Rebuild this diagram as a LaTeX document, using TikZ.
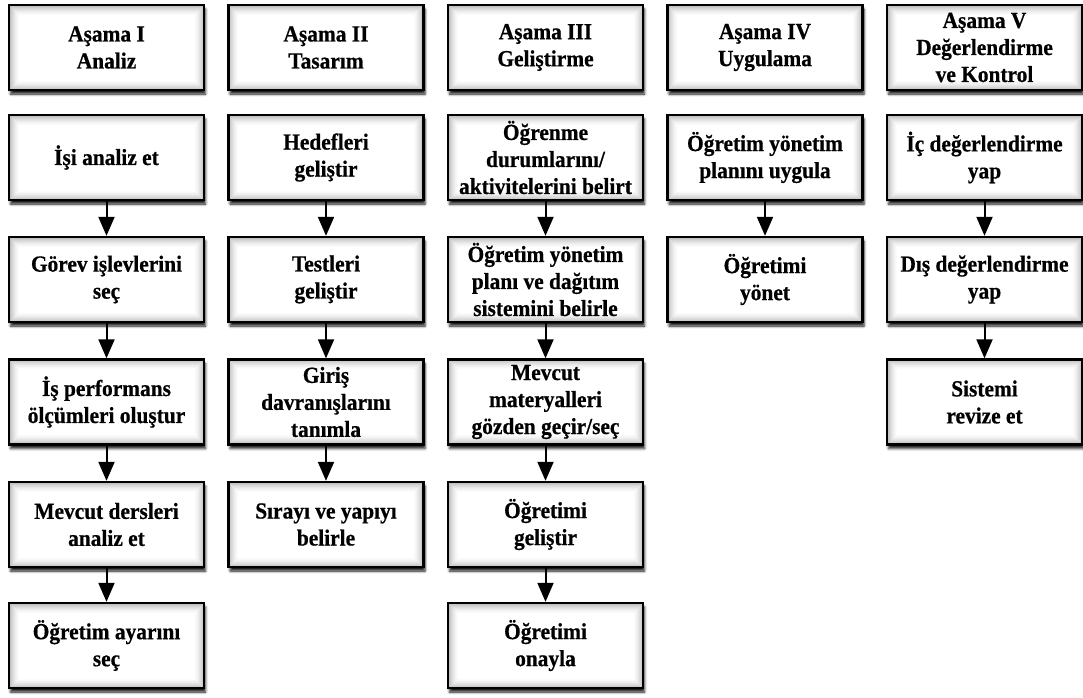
\documentclass[tikz,border=0pt]{standalone}
\usepackage{fontspec}
\setmainfont[FakeStretch=0.93, BoldFeatures={FakeBold=0.6}]{Liberation Serif}
\usetikzlibrary{arrows.meta,shadows.blur}

\tikzset{
  stepbox/.style={
    draw=black, line width=2.4pt, fill=white,
    minimum width=195pt, minimum height=85pt,
    inner sep=0pt, align=center,
    font=\fontsize{23}{27}\selectfont\bfseries,
    blur shadow={shadow xshift=1.5pt, shadow yshift=-4pt,
                 shadow blur radius=2.5pt, shadow opacity=90},
    path picture={
      \foreach \i/\c in {1/24,2/20,3/16,4/13,5/10,6/7,7/5,8/3,9/1.5}{
        \draw[draw=black!\c, line width=1pt]
          ([shift={(\i pt,-\i pt)}]path picture bounding box.north west)
          rectangle
          ([shift={(-\i pt,\i pt)}]path picture bounding box.south east);
      }
    }
  },
  flow/.style={line width=2pt, -{Triangle[width=16pt,length=19pt]}}
}

\begin{document}
\begin{tikzpicture}[x=1pt,y=-1pt]
\useasboundingbox (0,0) rectangle (1083,697);

% column centres
\def\ca{106.5}
\def\cb{326}
\def\cc{545.5}
\def\cd{765}
\def\ce{984.5}
% row centres
\def\rh{47.5}
\def\ra{157.5}
\def\rb{279.5}
\def\rc{402}
\def\rd{524.5}
\def\re{645.5}

% Stage I
\node[stepbox] (h1) at (\ca,\rh) {Aşama I\\Analiz};
\node[stepbox] (a1) at (\ca,\ra) {İşi analiz et};
\node[stepbox] (a2) at (\ca,\rb) {Görev işlevlerini\\seç};
\node[stepbox] (a3) at (\ca,\rc) {İş performans\\ölçümleri oluştur};
\node[stepbox] (a4) at (\ca,\rd) {Mevcut dersleri\\analiz et};
\node[stepbox] (a5) at (\ca,\re) {Öğretim ayarını\\seç};

% Stage II
\node[stepbox] (h2) at (\cb,\rh) {Aşama II\\Tasarım};
\node[stepbox] (b1) at (\cb,\ra) {Hedefleri\\geliştir};
\node[stepbox] (b2) at (\cb,\rb) {Testleri\\geliştir};
\node[stepbox] (b3) at (\cb,\rc) {Giriş\\davranışlarını\\tanımla};
\node[stepbox] (b4) at (\cb,\rd) {Sırayı ve yapıyı\\belirle};

% Stage III
\node[stepbox] (h3) at (\cc,\rh) {Aşama III\\Geliştirme};
\node[stepbox] (c1) at (\cc,\ra) {Öğrenme\\durumlarını/\\aktivitelerini belirt};
\node[stepbox] (c2) at (\cc,\rb) {Öğretim yönetim\\planı ve dağıtım\\sistemini belirle};
\node[stepbox] (c3) at (\cc,\rc) {Mevcut\\materyalleri\\gözden geçir/seç};
\node[stepbox] (c4) at (\cc,\rd) {Öğretimi\\geliştir};
\node[stepbox] (c5) at (\cc,\re) {Öğretimi\\onayla};

% Stage IV
\node[stepbox] (h4) at (\cd,\rh) {Aşama IV\\Uygulama};
\node[stepbox] (d1) at (\cd,\ra) {Öğretim yönetim\\planını uygula};
\node[stepbox] (d2) at (\cd,\rb) {Öğretimi\\yönet};

% Stage V
\node[stepbox] (h5) at (\ce,\rh) {Aşama V\\Değerlendirme\\ve Kontrol};
\node[stepbox] (e1) at (\ce,\ra) {İç değerlendirme\\yap};
\node[stepbox] (e2) at (\ce,\rb) {Dış değerlendirme\\yap};
\node[stepbox] (e3) at (\ce,\rc) {Sistemi\\revize et};

% flow arrows
\foreach \p/\q in {a1/a2,a2/a3,a3/a4,a4/a5,
                   b1/b2,b2/b3,b3/b4,
                   c1/c2,c2/c3,c3/c4,c4/c5,
                   d1/d2,
                   e1/e2,e2/e3}{
  \draw[flow] (\p.south) -- (\q.north);
}
\end{tikzpicture}
\end{document}
